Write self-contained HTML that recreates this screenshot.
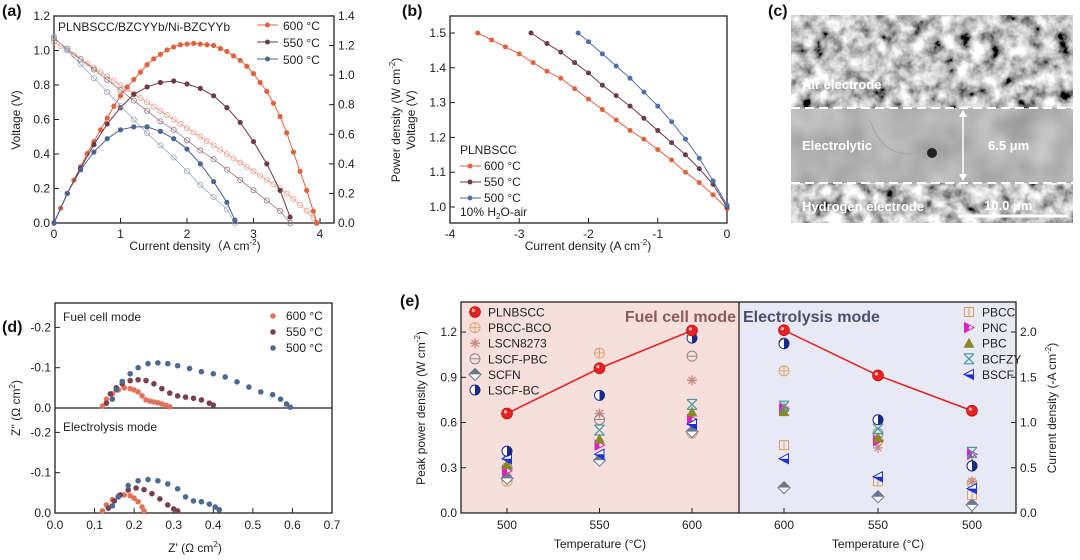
<!DOCTYPE html>
<html><head><meta charset="utf-8"><style>
html,body{margin:0;padding:0;background:#fff;}
svg{display:block;font-family:"Liberation Sans",Arial,sans-serif;}
.t{font-size:12px;fill:#222;}
.lb{font-size:12px;fill:#222;}
.pl{font-size:16px;font-weight:bold;fill:#111;}
</style></head><body>
<svg id="fig" width="1080" height="560" viewBox="0 0 1080 560" xmlns="http://www.w3.org/2000/svg">
<defs>
<filter id="noise" x="0" y="0" width="100%" height="100%">
<feTurbulence type="fractalNoise" baseFrequency="0.07" numOctaves="4" seed="4"/>
<feColorMatrix type="matrix" values="1.3 1.3 0 0 -0.75  1.3 1.3 0 0 -0.75  1.3 1.3 0 0 -0.75  0 0 0 0 1"/>
</filter>
<filter id="noise2" x="0" y="0" width="100%" height="100%">
<feTurbulence type="fractalNoise" baseFrequency="0.03" numOctaves="2" seed="9"/>
<feColorMatrix type="matrix" values="0.25 0.25 0 0 0.2  0.25 0.25 0 0 0.2  0.25 0.25 0 0 0.2  0 0 0 0 1"/>
</filter>
</defs>

<text class="pl" x="2" y="16">(a)</text>
<text class="pl" x="402" y="16">(b)</text>
<text class="pl" x="768" y="16">(c)</text>
<text class="pl" x="2" y="332">(d)</text>
<text class="pl" x="400" y="306">(e)</text>

<g id="pa">
<rect x="54" y="16" width="280" height="207" fill="none" stroke="#222" stroke-width="1.3"/>
<text class="lb" x="20" y="120" transform="rotate(-90 20 120)" text-anchor="middle">Voltage (V)</text>
<text class="lb" x="195" y="250" text-anchor="middle">Current density（A cm<tspan dy="-5" font-size="8">-2</tspan><tspan dy="5">)</tspan></text>
<text class="lb" x="58" y="31">PLNBSCC/BZCYYb/Ni-BZCYYb</text>
</g>

<g id="pb">
<rect x="450" y="16" width="277" height="207" fill="none" stroke="#222" stroke-width="1.3"/>
<text class="lb" x="400" y="120" transform="rotate(-90 400 120)" text-anchor="middle">Power density (W cm<tspan dy="-5" font-size="8">-2</tspan><tspan dy="5">)</tspan></text>
<text class="lb" x="415" y="120" transform="rotate(-90 415 120)" text-anchor="middle">Voltage (V)</text>
<text class="lb" x="588" y="250" text-anchor="middle">Current density (A cm<tspan dy="-5" font-size="8">-2</tspan><tspan dy="5">)</tspan></text>
<text class="lb" x="460" y="154">PLNBSCC</text>
<text class="lb" x="460" y="216">10% H<tspan dy="3" font-size="8">2</tspan><tspan dy="-3">O-air</tspan></text>
</g>

<g id="pc">
<rect x="791" y="15" width="282" height="93" filter="url(#noise)"/>
<rect x="791" y="108" width="282" height="75" filter="url(#noise2)"/>
<rect x="791" y="183" width="282" height="40" filter="url(#noise)"/>
<path d="M870 120 C 880 150, 900 160, 925 150" stroke="#aaa" stroke-width="1.5" fill="none"/>
<circle cx="932" cy="153" r="5" fill="#222"/>
<line x1="791" y1="108" x2="1073" y2="108" stroke="#fff" stroke-width="2" stroke-dasharray="9 5"/>
<line x1="791" y1="183" x2="1073" y2="183" stroke="#fff" stroke-width="2" stroke-dasharray="9 5"/>
<line x1="963" y1="112" x2="963" y2="179" stroke="#fff" stroke-width="1.5"/>
<path d="M959 117 L963 110 L967 117 Z M959 174 L963 181 L967 174 Z" fill="#fff"/>
<line x1="958" y1="216" x2="1068" y2="216" stroke="#fff" stroke-width="3"/>
<g font-size="13" font-weight="bold" fill="#fff">
<text x="802" y="89">Air electrode</text>
<text x="802" y="150">Electrolytic</text>
<text x="988" y="150">6.5 μm</text>
<text x="802" y="211">Hydrogen electrode</text>
<text x="984" y="210">10.0 μm</text>
</g>
</g>

<g id="pd">
<rect x="55" y="303" width="277" height="210" fill="none" stroke="#222" stroke-width="1.3"/>
<line x1="55" y1="408" x2="332" y2="408" stroke="#222" stroke-width="1.3"/>
<text class="lb" x="63" y="321">Fuel cell mode</text>
<text class="lb" x="63" y="431">Electrolysis mode</text>
<text class="lb" x="20" y="408" transform="rotate(-90 20 408)" text-anchor="middle">Z'' (Ω cm<tspan dy="-5" font-size="8">2</tspan><tspan dy="5">)</tspan></text>
<text class="lb" x="195" y="552" text-anchor="middle">Z' (Ω cm<tspan dy="-5" font-size="8">2</tspan><tspan dy="5">)</tspan></text>
</g>

<g id="pe">
<rect x="461" y="302" width="278" height="211" fill="#f7dfdc"/>
<rect x="739" y="302" width="277" height="211" fill="#e8e9f4"/>
<rect x="461" y="302" width="555" height="211" fill="none" stroke="#222" stroke-width="1.3"/>
<line x1="739" y1="302" x2="739" y2="513" stroke="#222" stroke-width="1.3"/>
<text x="736" y="322" text-anchor="end" font-size="16" font-weight="bold" fill="#8a5a5e">Fuel cell mode</text>
<text x="743" y="322" font-size="16" font-weight="bold" fill="#4a5070">Electrolysis mode</text>
<text class="lb" x="425" y="408" transform="rotate(-90 425 408)" text-anchor="middle">Peak power density (W cm<tspan dy="-5" font-size="8">-2</tspan><tspan dy="5">)</tspan></text>
<text class="lb" x="1056" y="408" transform="rotate(-90 1056 408)" text-anchor="middle">Current density (-A cm<tspan dy="-5" font-size="8">-2</tspan><tspan dy="5">)</tspan></text>
<text class="lb" x="600" y="548" text-anchor="middle">Temperature (°C)</text>
<text class="lb" x="878" y="548" text-anchor="middle">Temperature (°C)</text>
</g>
</svg>
<script>
const aI600 = [0,0.1,0.2,0.3,0.4,0.5,0.6,0.7,0.8,0.9,1.0,1.1,1.2,1.3,1.4,1.5,1.6,1.7,1.8,1.9,2.0,2.1,2.2,2.3,2.4,2.5,2.6,2.7,2.8,2.9,3.0,3.1,3.2,3.3,3.4,3.5,3.6,3.7,3.8,3.9,3.95];
const aV600 = [1.05,1.025,1.00,0.975,0.95,0.925,0.90,0.875,0.85,0.825,0.80,0.775,0.75,0.725,0.70,0.675,0.65,0.625,0.60,0.575,0.55,0.525,0.50,0.475,0.45,0.425,0.40,0.375,0.35,0.325,0.30,0.275,0.25,0.225,0.20,0.17,0.14,0.105,0.07,0.03,0.0];
const aP600 = [0,0.10,0.20,0.29,0.38,0.47,0.55,0.63,0.71,0.79,0.86,0.92,0.97,1.02,1.07,1.11,1.14,1.17,1.19,1.205,1.21,1.215,1.21,1.205,1.20,1.18,1.16,1.13,1.10,1.06,1.01,0.95,0.89,0.81,0.72,0.61,0.48,0.35,0.22,0.08,0];
const aI550 = [0,0.2,0.4,0.6,0.8,1.0,1.2,1.4,1.6,1.8,2.0,2.2,2.4,2.6,2.8,3.0,3.2,3.4,3.55];
const aV550 = [1.07,1.01,0.95,0.89,0.83,0.77,0.71,0.65,0.59,0.54,0.48,0.42,0.37,0.31,0.25,0.19,0.13,0.07,0.0];
const aP550 = [0,0.20,0.37,0.53,0.67,0.78,0.87,0.92,0.95,0.96,0.94,0.91,0.86,0.78,0.68,0.55,0.40,0.22,0.04];
const aI500 = [0,0.2,0.4,0.6,0.8,1.0,1.2,1.4,1.6,1.8,2.0,2.2,2.4,2.6,2.72];
const aV500 = [1.08,1.00,0.92,0.84,0.76,0.68,0.60,0.52,0.45,0.38,0.30,0.22,0.15,0.08,0.0];
const aP500 = [0,0.20,0.36,0.48,0.57,0.63,0.65,0.65,0.62,0.57,0.50,0.40,0.28,0.14,0.02];
const aXTicks = [0,1,2,3,4];
const aYLTicks = [0,0.2,0.4,0.6,0.8,1.0,1.2];
const aYRTicks = [0,0.2,0.4,0.6,0.8,1.0,1.2,1.4];
const aLegend = ["600 °C","550 °C","500 °C"];
const bI600 = [-3.6,-3.4,-3.2,-3.0,-2.8,-2.6,-2.4,-2.2,-2.0,-1.8,-1.6,-1.4,-1.2,-1.0,-0.8,-0.6,-0.4,-0.2,0];
const bV600 = [1.50,1.48,1.46,1.44,1.415,1.39,1.37,1.34,1.31,1.28,1.25,1.22,1.195,1.165,1.135,1.10,1.07,1.035,0.995];
const bI550 = [-2.83,-2.6,-2.4,-2.2,-2.0,-1.8,-1.6,-1.4,-1.2,-1.0,-0.8,-0.6,-0.4,-0.2,0];
const bV550 = [1.50,1.47,1.445,1.415,1.385,1.35,1.32,1.29,1.255,1.22,1.185,1.15,1.11,1.065,1.0];
const bI500 = [-2.15,-2.0,-1.8,-1.6,-1.4,-1.2,-1.0,-0.8,-0.6,-0.4,-0.2,0];
const bV500 = [1.50,1.475,1.44,1.405,1.37,1.33,1.29,1.245,1.195,1.14,1.075,1.005];
const bXTicks = [-4,-3,-2,-1,0];
const bYTicks = [1.0,1.1,1.2,1.3,1.4,1.5];
const bLegend = ["600 °C","550 °C","500 °C"];
const dFcZr600 = [0.12,0.13,0.145,0.16,0.175,0.19,0.2,0.21,0.22,0.23,0.24,0.25,0.26,0.27,0.28,0.29];
const dFcZi600 = [0.005,0.022,0.035,0.045,0.05,0.048,0.045,0.04,0.03,0.02,0.017,0.015,0.013,0.01,0.007,0.003];
const dFcZr550 = [0.13,0.14,0.155,0.17,0.19,0.21,0.23,0.25,0.27,0.29,0.31,0.33,0.35,0.37,0.39,0.40];
const dFcZi550 = [0.012,0.035,0.05,0.06,0.068,0.07,0.068,0.06,0.048,0.037,0.03,0.027,0.024,0.02,0.012,0.007];
const dFcZr500 = [0.145,0.155,0.17,0.19,0.21,0.235,0.26,0.285,0.31,0.34,0.37,0.40,0.43,0.46,0.49,0.52,0.55,0.57,0.585,0.595];
const dFcZi500 = [0.022,0.045,0.066,0.085,0.1,0.11,0.112,0.11,0.105,0.098,0.09,0.085,0.077,0.065,0.052,0.04,0.033,0.022,0.01,0.002];
const dElZr600 = [0.12,0.13,0.145,0.16,0.175,0.19,0.2,0.21,0.22,0.225];
const dElZi600 = [0.005,0.02,0.033,0.042,0.045,0.043,0.037,0.028,0.015,0.005];
const dElZr550 = [0.135,0.15,0.165,0.185,0.205,0.225,0.245,0.265,0.285,0.3,0.31];
const dElZi550 = [0.012,0.03,0.045,0.057,0.062,0.058,0.048,0.035,0.02,0.01,0.005];
const dElZr500 = [0.145,0.16,0.185,0.21,0.235,0.26,0.285,0.31,0.33,0.35,0.37,0.39,0.405,0.415];
const dElZi500 = [0.018,0.04,0.068,0.08,0.083,0.08,0.072,0.06,0.04,0.03,0.028,0.022,0.015,0.008];
const dXTicks = [0,0.1,0.2,0.3,0.4,0.5,0.6,0.7];
const dYTicks = [0,0.1,0.2];
const dLegend = ["600 °C","550 °C","500 °C"];
const eTemps = [500,550,600];
const eLeftTicks = [0,0.3,0.6,0.9,1.2];
const eRightTicks = [0,0.5,1.0,1.5,2.0];
const eNames = ["PLNBSCC","PBCC-BCO","LSCN8273","LSCF-PBC","SCFN","LSCF-BC","PBCC","PNC","PBC","BCFZY","BSCF"];
const eFcPLNBSCC = [0.66,0.96,1.21];
const eFcPBCCBCO = [0.21,1.06,0.53];
const eFcLSCN8273 = [0.25,0.66,0.88];
const eFcLSCFPBC = [0.30,0.62,1.04];
const eFcSCFN = [0.23,0.35,0.54];
const eFcLSCFBC = [0.41,0.78,1.16];
const eFcPNC = [0.28,0.45,0.62];
const eFcPBC = [0.32,0.49,0.67];
const eFcBCFZY = [0.39,0.55,0.72];
const eFcBSCF = [0.36,0.39,0.59];
const eElPLNBSCC = [1.13,1.52,2.02];
const eElPBCCBCO = [0.33,0.80,1.57];
const eElLSCN8273 = [0.35,0.72,1.17];
const eElLSCFPBC = [0.52,0.88,1.88];
const eElSCFN = [0.09,0.18,0.28];
const eElLSCFBC = [0.52,1.03,1.87];
const eElPBCC = [0.20,0.35,0.75];
const eElPNC = [0.65,0.80,1.15];
const eElPBC = [0.55,0.83,1.12];
const eElBCFZY = [0.67,0.93,1.18];
const eElBSCF = [0.27,0.40,0.60];

const NS = "http://www.w3.org/2000/svg";
const svg = document.getElementById('fig');
function mk(tag, attrs, parent) {
  const e = document.createElementNS(NS, tag);
  for (const k in attrs) e.setAttribute(k, attrs[k]);
  (parent || svg).appendChild(e);
  return e;
}
function fmt(v, d) { return v.toFixed(d); }

const ax = i => 54 + i * 66.5;
const ayL = v => 223 - v * 172.5;
const ayR = p => 223 - p * 147.9;
const bx = i => 727 + i * 69.25;
const by = v => 207 - (v - 1) * 348;
const dx = z => 55 + z * 395.7;
const dyT = z => 408 - z * 403;
const dyB = z => 513 - z * 403;
const exL = t => 507 + (t - 500) * 1.85;
const exR = t => 784 + (600 - t) * 1.88;
const eyL = w => 513 - w * 150.8;
const eyR = a => 513 - a * 90.5;

const gA = document.getElementById('pa');
const gB = document.getElementById('pb');
const gD = document.getElementById('pd');
const gE = document.getElementById('pe');

aXTicks.forEach(t => {
  const l = mk('line', {x1: ax(t), x2: ax(t), y1: 223, y2: 218, stroke: '#222'}, gA);
  
  
  const tx = mk('text', {x: ax(t), y: 238, class: 't', 'text-anchor': 'middle'}, gA);
  tx.textContent = t;
  
  
});
aYLTicks.forEach(t => {
  const l = mk('line', {x1: 54, x2: 59, y1: ayL(t), y2: ayL(t), stroke: '#222'}, gA);
  
  
  const tx = mk('text', {x: 50, y: ayL(t) + 4, class: 't', 'text-anchor': 'end'}, gA);
  tx.textContent = fmt(t, 1);
  
  
});
aYRTicks.forEach(t => {
  const l = mk('line', {x1: 334, x2: 329, y1: ayR(t), y2: ayR(t), stroke: '#222'}, gA);
  
  
  const tx = mk('text', {x: 338, y: ayR(t) + 4, class: 't'}, gA);
  tx.textContent = fmt(t, 1);
  
  
});
const aCols = ['#e0623f', '#6e3a4c', '#4a6590'];
const aVLight = ['#e9a08c', '#9a7a84', '#9aa6ba'];
const aSeries = [[aI600, aV600, aP600], [aI550, aV550, aP550], [aI500, aV500, aP500]];
aSeries.forEach((s, k) => {
  const [I, V, P] = s;
  const lv = mk('polyline', {points: I.map((x, j) => ax(x) + ',' + ayL(V[j])).join(' '), fill: 'none', stroke: aVLight[k], 'stroke-width': 0.8}, gA);
  
  
  I.forEach((x, j) => {
    const c = mk('circle', {cx: ax(x), cy: ayL(V[j]), r: 2.6, fill: 'none', stroke: aVLight[k], 'stroke-width': 0.8}, gA);
    
    
  });
  const lp = mk('polyline', {points: I.map((x, j) => ax(x) + ',' + ayR(P[j])).join(' '), fill: 'none', stroke: aCols[k], 'stroke-width': 1}, gA);
  
  
  I.forEach((x, j) => {
    const c = mk('circle', {cx: ax(x), cy: ayR(P[j]), r: 2.6, fill: aCols[k]}, gA);
    
    
  });
});
aLegend.forEach((n, k) => {
  const y = 25 + k * 17;
  const l = mk('line', {x1: 257, x2: 278, y1: y, y2: y, stroke: aCols[k], 'stroke-width': 1}, gA);
  
  
  const c = mk('circle', {cx: 267.5, cy: y, r: 2.5, fill: aCols[k]}, gA);
  
  
  const t = mk('text', {x: 283, y: y + 5, class: 'lb', 'font-size': 13}, gA);
  t.textContent = n;
  
  
});

bXTicks.forEach(t => {
  const l = mk('line', {x1: bx(t), x2: bx(t), y1: 223, y2: 218, stroke: '#222'}, gB);
  
  
  const tx = mk('text', {x: bx(t), y: 238, class: 't', 'text-anchor': 'middle'}, gB);
  tx.textContent = t;
  
  
});
bYTicks.forEach(t => {
  const l = mk('line', {x1: 450, x2: 455, y1: by(t), y2: by(t), stroke: '#222'}, gB);
  
  
  const tx = mk('text', {x: 446, y: by(t) + 4, class: 't', 'text-anchor': 'end'}, gB);
  tx.textContent = fmt(t, 1);
  
  
});
const bCols = ['#e0623f', '#6e3a4c', '#4f70a8'];
[[bI600, bV600], [bI550, bV550], [bI500, bV500]].forEach((s, k) => {
  const [I, V] = s;
  const pl = mk('polyline', {points: I.map((x, j) => bx(x) + ',' + by(V[j])).join(' '), fill: 'none', stroke: bCols[k], 'stroke-width': 1}, gB);
  
  
  I.forEach((x, j) => {
    const c = mk('circle', {cx: bx(x), cy: by(V[j]), r: 2.5, fill: bCols[k]}, gB);
    
    
  });
});
bLegend.forEach((n, k) => {
  const y = 166 + k * 16;
  const l = mk('line', {x1: 460, x2: 481, y1: y, y2: y, stroke: bCols[k]}, gB);
  
  
  const c = mk('circle', {cx: 470, cy: y, r: 2.5, fill: bCols[k]}, gB);
  
  
  const t = mk('text', {x: 484, y: y + 4, class: 'lb'}, gB);
  t.textContent = n;
  
  
});

dXTicks.forEach(t => {
  const l = mk('line', {x1: dx(t), x2: dx(t), y1: 513, y2: 508, stroke: '#222'}, gD);
  
  
  const tx = mk('text', {x: dx(t), y: 529, class: 't', 'text-anchor': 'middle'}, gD);
  tx.textContent = fmt(t, 1);
  
  
});
[dyT, dyB].forEach((f, p) => {
  dYTicks.forEach(t => {
    const l = mk('line', {x1: 55, x2: 60, y1: f(t), y2: f(t), stroke: '#222'}, gD);
    
    
    const tx = mk('text', {x: 51, y: f(t) + 4, class: 't', 'text-anchor': 'end'}, gD);
    tx.textContent = t === 0 ? '0.0' : '-' + fmt(t, 1);
    
    
  });
});
const dCols = ['#e2735a', '#7a4050', '#4d6a92'];
[[dFcZr600, dFcZi600, dyT], [dFcZr550, dFcZi550, dyT], [dFcZr500, dFcZi500, dyT],
 [dElZr600, dElZi600, dyB], [dElZr550, dElZi550, dyB], [dElZr500, dElZi500, dyB]].forEach((s, k) => {
  const [R, Im, f] = s;
  R.forEach((x, j) => {
    const c = mk('circle', {cx: dx(x), cy: f(Im[j]), r: 2.8, fill: dCols[k % 3]}, gD);
    
    
  });
});
dLegend.forEach((n, k) => {
  const y = 316 + k * 16;
  const c = mk('circle', {cx: 273, cy: y, r: 2.8, fill: dCols[k]}, gD);
  
  
  const t = mk('text', {x: 286, y: y + 4, class: 'lb'}, gD);
  t.textContent = n;
  
  
});

eTemps.forEach(t => {
  [exL, exR].forEach((f, p) => {
    const l = mk('line', {x1: f(t), x2: f(t), y1: 513, y2: 508, stroke: '#222'}, gE);
    
    
    const tx = mk('text', {x: f(t), y: 529, class: 't', 'text-anchor': 'middle'}, gE);
    tx.textContent = t;
    
    
  });
});
eLeftTicks.forEach(t => {
  const l = mk('line', {x1: 461, x2: 466, y1: eyL(t), y2: eyL(t), stroke: '#222'}, gE);
  
  
  const tx = mk('text', {x: 457, y: eyL(t) + 4, class: 't', 'text-anchor': 'end'}, gE);
  tx.textContent = fmt(t, 1);
  
  
});
eRightTicks.forEach(t => {
  const l = mk('line', {x1: 1016, x2: 1011, y1: eyR(t), y2: eyR(t), stroke: '#222'}, gE);
  
  
  const tx = mk('text', {x: 1020, y: eyR(t) + 4, class: 't'}, gE);
  tx.textContent = fmt(t, 1);
  
  
});

const eStyle = {
  "PLNBSCC": ['sphere', '#e62222'], "PBCC-BCO": ['cplus', '#d8a46a'], "LSCN8273": ['star', '#c98a86'],
  "LSCF-PBC": ['cminus', '#8a8a8a'], "SCFN": ['diamond', '#6a7890'], "LSCF-BC": ['halfc', '#1a2a8a'],
  "PBCC": ['square', '#d9a060'], "PNC": ['rtri', '#e020c0'], "PBC": ['tri', '#8a8a20'],
  "BCFZY": ['xcross', '#4a9a9a'], "BSCF": ['ltri', '#1a30d8']
};
function marker(name, x, y, parent) {
  const [sh, col] = eStyle[name];
  const g = mk('g', {}, parent);
  const r = 5;
  if (sh === 'sphere') {
    mk('circle', {cx: x, cy: y, r: 5.5, fill: col, stroke: '#b00', 'stroke-width': 0.6}, g);
    mk('circle', {cx: x - 1.6, cy: y - 1.6, r: 1.6, fill: '#fbb'}, g);
  } else if (sh === 'cplus') {
    mk('circle', {cx: x, cy: y, r: r, fill: 'none', stroke: col}, g);
    mk('path', {d: `M${x - r} ${y}H${x + r}M${x} ${y - r}V${y + r}`, stroke: col}, g);
  } else if (sh === 'star') {
    mk('path', {d: `M${x - r} ${y}H${x + r}M${x - 3.5} ${y - 3.5}L${x + 3.5} ${y + 3.5}M${x + 3.5} ${y - 3.5}L${x - 3.5} ${y + 3.5}M${x} ${y - r}V${y + r}`, stroke: col, 'stroke-width': 1.3}, g);
  } else if (sh === 'cminus') {
    mk('circle', {cx: x, cy: y, r: r, fill: 'none', stroke: col}, g);
    mk('path', {d: `M${x - r} ${y}H${x + r}`, stroke: col}, g);
  } else if (sh === 'diamond') {
    mk('path', {d: `M${x} ${y - 6}L${x + 6} ${y}L${x} ${y + 6}L${x - 6} ${y}Z`, fill: '#fff', stroke: col}, g);
    mk('path', {d: `M${x} ${y - 6}L${x + 6} ${y}L${x - 6} ${y}Z`, fill: col}, g);
  } else if (sh === 'halfc') {
    mk('circle', {cx: x, cy: y, r: r, fill: '#fff', stroke: col}, g);
    mk('path', {d: `M${x} ${y - r}A${r} ${r} 0 0 1 ${x} ${y + r}Z`, fill: col}, g);
  } else if (sh === 'square') {
    mk('rect', {x: x - 4.5, y: y - 4.5, width: 9, height: 9, fill: 'none', stroke: col}, g);
    mk('path', {d: `M${x} ${y - 4.5}V${y + 4.5}`, stroke: col}, g);
  } else if (sh === 'rtri') {
    mk('path', {d: `M${x - 4.5} ${y - 5}L${x + 5} ${y}L${x - 4.5} ${y + 5}Z`, fill: '#fff', stroke: col}, g);
    mk('path', {d: `M${x - 4.5} ${y - 5}L${x} ${y - 2.5}L${x} ${y + 2.5}L${x - 4.5} ${y + 5}Z`, fill: col}, g);
  } else if (sh === 'tri') {
    mk('path', {d: `M${x} ${y - 5.5}L${x + 5.5} ${y + 4.5}L${x - 5.5} ${y + 4.5}Z`, fill: col}, g);
  } else if (sh === 'xcross') {
    mk('path', {d: `M${x - 5} ${y - 5}L${x + 5} ${y + 5}M${x + 5} ${y - 5}L${x - 5} ${y + 5}M${x - 5} ${y - 5}H${x + 5}M${x - 5} ${y + 5}H${x + 5}`, stroke: col, 'stroke-width': 1.2}, g);
  } else if (sh === 'ltri') {
    mk('path', {d: `M${x + 4.5} ${y - 5}L${x - 5} ${y}L${x + 4.5} ${y + 5}Z`, fill: '#fff', stroke: col}, g);
    mk('path', {d: `M${x - 5} ${y}L${x + 4.5} ${y}L${x + 4.5} ${y + 5}Z`, fill: col}, g);
  }
  return g;
}

const eFc = {"PBCC-BCO": eFcPBCCBCO, "LSCN8273": eFcLSCN8273, "LSCF-PBC": eFcLSCFPBC, "SCFN": eFcSCFN,
  "PNC": eFcPNC, "PBC": eFcPBC, "BCFZY": eFcBCFZY, "BSCF": eFcBSCF, "LSCF-BC": eFcLSCFBC, "PLNBSCC": eFcPLNBSCC};
const eEl = {"PBCC-BCO": eElPBCCBCO, "LSCN8273": eElLSCN8273, "LSCF-PBC": eElLSCFPBC, "SCFN": eElSCFN,
  "PBCC": eElPBCC, "PNC": eElPNC, "PBC": eElPBC, "BCFZY": eElBCFZY, "BSCF": eElBSCF, "LSCF-BC": eElLSCFBC, "PLNBSCC": eElPLNBSCC};

const lf = mk('polyline', {points: eTemps.map((t, j) => exL(t) + ',' + eyL(eFcPLNBSCC[j])).join(' '), fill: 'none', stroke: '#e62222', 'stroke-width': 1.6}, gE);


const le = mk('polyline', {points: eTemps.map((t, j) => exR(t) + ',' + eyR(eElPLNBSCC[j])).join(' '), fill: 'none', stroke: '#e62222', 'stroke-width': 1.6}, gE);



Object.keys(eFc).forEach(n => {
  eFc[n].forEach((v, j) => {
    if (v == null) return;
    const m = marker(n, exL(eTemps[j]), eyL(v), gE);
    
    
  });
});
Object.keys(eEl).forEach(n => {
  eEl[n].forEach((v, j) => {
    if (v == null) return;
    const m = marker(n, exR(eTemps[j]), eyR(v), gE);
    
    
  });
});
eNames.forEach((n, k) => {
  const left = k < 6;
  const x = left ? 475 : 969;
  const y = 312 + (left ? k : k - 6) * 15.6;
  const m = marker(n, x, y, gE);
  
  
  const t = mk('text', {x: x + 13, y: y + 4.5, class: 'lb'}, gE);
  t.textContent = n;
  
  
});
</script>
</body></html>
